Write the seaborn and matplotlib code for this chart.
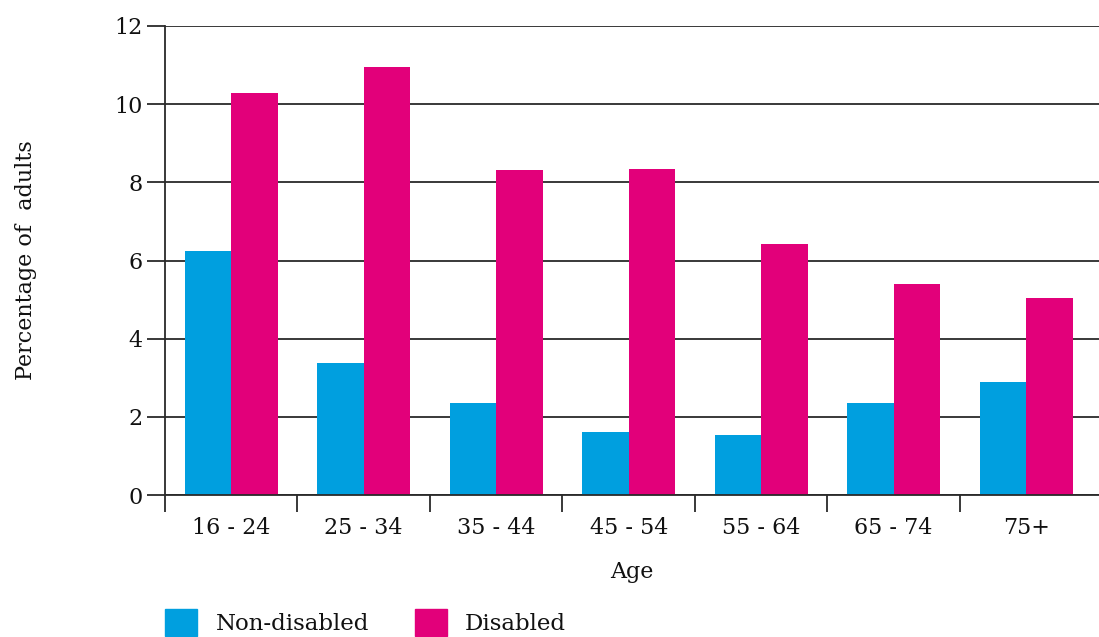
import matplotlib
matplotlib.use("Agg")
import matplotlib.pyplot as plt
import seaborn as sns
import pandas as pd

age_groups = ["16 - 24", "25 - 34", "35 - 44", "45 - 54", "55 - 64", "65 - 74", "75+"]
non_disabled = [6.24, 3.38, 2.35, 1.61, 1.54, 2.35, 2.89]
disabled = [10.29, 10.95, 8.32, 8.34, 6.42, 5.40, 5.04]
series_names = ["Non-disabled", "Disabled"]
colors = ["#009FDF", "#E2007A"]

df = pd.DataFrame({
    "Age": age_groups * 2,
    "value": non_disabled + disabled,
    "group": [series_names[0]] * len(age_groups) + [series_names[1]] * len(age_groups),
})

sns.set_style("white")
plt.rcParams["font.family"] = ["DejaVu Serif"]
plt.rcParams["text.color"] = "#111111"
plt.rcParams["axes.labelcolor"] = "#111111"
plt.rcParams["xtick.labelcolor"] = "#111111"
plt.rcParams["ytick.labelcolor"] = "#111111"

fig = plt.figure(figsize=(10.99, 6.37), dpi=100)
ax = fig.add_axes([165 / 1099, 1 - 495 / 637, 1 - 165 / 1099, (495 - 26) / 637])

sns.barplot(data=df, x="Age", y="value", hue="group", palette=colors,
            saturation=1, width=0.7, gap=0, linewidth=0, ax=ax, legend=False)

ax.set_ylim(0, 12)
ax.set_xlim(-0.5, 6.55)
ax.set_yticks([0, 2, 4, 6, 8, 10, 12])
ax.yaxis.grid(True, color="#2a2a2a", linewidth=1.3)
ax.set_axisbelow(True)

# category ticks sit on the boundaries between groups
ax.set_xticks([i - 0.5 for i in range(len(age_groups))], minor=False)
ax.set_xticklabels([])
ax.set_xticks(range(len(age_groups)), minor=True)
ax.set_xticklabels(age_groups, minor=True)
ax.tick_params(axis="x", which="major", bottom=True, direction="out", length=12, width=1.3,
               color="#2a2a2a")
ax.tick_params(axis="x", which="minor", bottom=True, length=0, pad=16, labelsize=16)
ax.tick_params(axis="y", left=True, direction="out", length=13, width=1.3, color="#2a2a2a",
               labelsize=16, pad=3)

for s in ["top", "right"]:
    ax.spines[s].set_visible(False)
for s in ["left", "bottom"]:
    ax.spines[s].set_color("#2a2a2a")
    ax.spines[s].set_linewidth(1.3)

ax.set_xlabel("Age", fontsize=16, labelpad=16)
ax.set_ylabel("Percentage of  adults", fontsize=16, labelpad=56)

handles = [plt.Rectangle((0, 0), 1, 1, color=c) for c in colors]
fig.legend(handles, series_names, loc="upper left", bbox_to_anchor=(156 / 1099, 1 - 600 / 637),
           ncol=2, frameon=False, fontsize=16.5, handlelength=1.4, handleheight=1.4,
           handletextpad=0.8, columnspacing=2.0, borderaxespad=0, borderpad=0.4)

fig.savefig("out.png", dpi=100)
